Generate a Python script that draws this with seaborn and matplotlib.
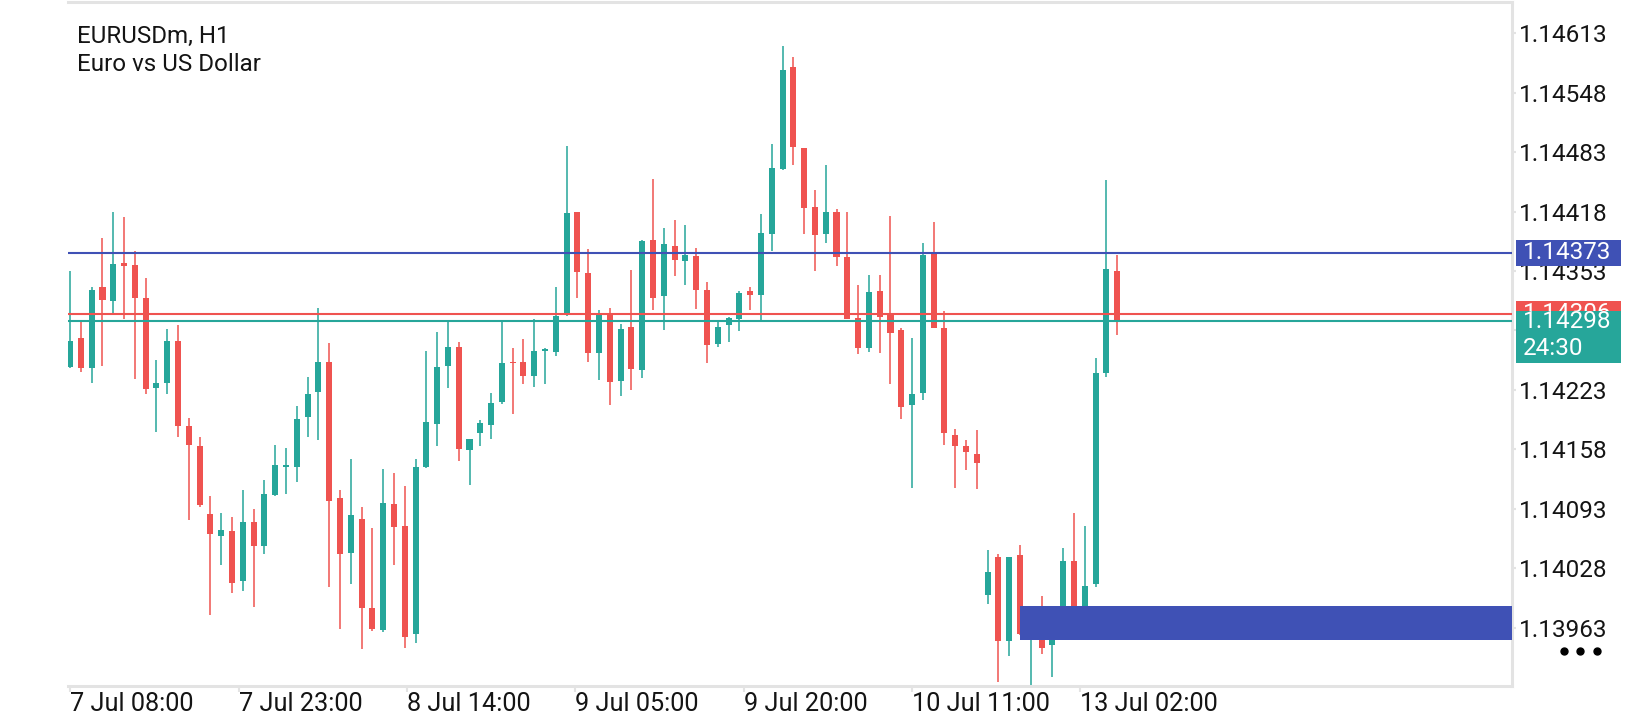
import numpy as np
import pandas as pd
import matplotlib
matplotlib.use("Agg")
import matplotlib.pyplot as plt
import matplotlib.transforms as mtransforms
from matplotlib.patches import Rectangle
import seaborn as sns

# ---------------- data (EURUSDm H1 candles) ----------------
opens = [1.14248, 1.14280, 1.14247, 1.14335, 1.14320, 1.14362, 1.14360, 1.14324, 1.14225, 1.14230,
         1.14277, 1.14184, 1.14162, 1.14087, 1.14063, 1.14069, 1.14014, 1.14078, 1.14052, 1.14108,
         1.14139, 1.14139, 1.14193, 1.14221, 1.14254, 1.14105, 1.14045, 1.14082, 1.13985, 1.13960,
         1.14098, 1.14074, 1.13956, 1.14139, 1.14186, 1.14249, 1.14270, 1.14157, 1.14176, 1.14185,
         1.14210, 1.14254, 1.14253, 1.14238, 1.14266, 1.14264, 1.14305, 1.14418, 1.14351, 1.14263,
         1.14305, 1.14233, 1.14292, 1.14245, 1.14387, 1.14326, 1.14380, 1.14364, 1.14369, 1.14332,
         1.14273, 1.14294, 1.14301, 1.14331, 1.14327, 1.14393, 1.14465, 1.14576, 1.14488, 1.14423,
         1.14393, 1.14417, 1.14368, 1.14302, 1.14269, 1.14331, 1.14306, 1.14289, 1.14206, 1.14220,
         1.14372, 1.14291, 1.14174, 1.14162, 1.14153, 1.13999, 1.14040, 1.13948, 1.14042, 1.13955,
         1.13960, 1.13944, 1.13962, 1.14036, 1.13975, 1.14011, 1.14242, 1.14353]
highs = [1.14353, 1.14298, 1.14336, 1.14389, 1.14417, 1.14412, 1.14375, 1.14345, 1.14256, 1.14290,
         1.14294, 1.14192, 1.14172, 1.14107, 1.14088, 1.14084, 1.14113, 1.14093, 1.14124, 1.14163,
         1.14159, 1.14205, 1.14237, 1.14313, 1.14274, 1.14113, 1.14147, 1.14095, 1.14072, 1.14136,
         1.14132, 1.14118, 1.14147, 1.14266, 1.14286, 1.14297, 1.14275, 1.14169, 1.14190, 1.14220,
         1.14298, 1.14269, 1.14279, 1.14300, 1.14269, 1.14336, 1.14490, 1.14418, 1.14377, 1.14310,
         1.14312, 1.14295, 1.14354, 1.14387, 1.14454, 1.14400, 1.14409, 1.14403, 1.14378, 1.14341,
         1.14297, 1.14303, 1.14331, 1.14335, 1.14415, 1.14492, 1.14599, 1.14587, 1.14488, 1.14442,
         1.14469, 1.14421, 1.14417, 1.14338, 1.14349, 1.14349, 1.14413, 1.14291, 1.14280, 1.14384,
         1.14407, 1.14309, 1.14180, 1.14168, 1.14179, 1.14048, 1.14043, 1.14040, 1.14053, 1.13980,
         1.13998, 1.13965, 1.14050, 1.14088, 1.14074, 1.14258, 1.14452, 1.14370]
lows = [1.14247, 1.14243, 1.14231, 1.14249, 1.14306, 1.14301, 1.14235, 1.14218, 1.14177, 1.14219,
        1.14172, 1.14081, 1.14095, 1.13977, 1.14032, 1.14001, 1.14003, 1.13986, 1.14044, 1.14107,
        1.14109, 1.14122, 1.14171, 1.14168, 1.14007, 1.13961, 1.14011, 1.13940, 1.13959, 1.13958,
        1.14032, 1.13941, 1.13946, 1.14138, 1.14162, 1.14225, 1.14145, 1.14119, 1.14162, 1.14169,
        1.14208, 1.14197, 1.14229, 1.14226, 1.14229, 1.14260, 1.14304, 1.14323, 1.14253, 1.14234,
        1.14207, 1.14216, 1.14223, 1.14236, 1.14310, 1.14289, 1.14347, 1.14338, 1.14311, 1.14252,
        1.14270, 1.14275, 1.14287, 1.14310, 1.14299, 1.14375, 1.14464, 1.14469, 1.14393, 1.14353,
        1.14384, 1.14359, 1.14301, 1.14262, 1.14264, 1.14263, 1.14229, 1.14191, 1.14116, 1.14212,
        1.14291, 1.14163, 1.14116, 1.14135, 1.14115, 1.13989, 1.13904, 1.13932, 1.13955, 1.13895,
        1.13934, 1.13909, 1.13955, 1.13960, 1.13965, 1.14007, 1.14237, 1.14283]
closes = [1.14277, 1.14247, 1.14332, 1.14321, 1.14361, 1.14358, 1.14324, 1.14224, 1.14230, 1.14277,
          1.14183, 1.14163, 1.14097, 1.14065, 1.14070, 1.14012, 1.14078, 1.14052, 1.14109, 1.14141,
          1.14141, 1.14191, 1.14219, 1.14254, 1.14102, 1.14043, 1.14086, 1.13985, 1.13962, 1.14099,
          1.14073, 1.13953, 1.14139, 1.14188, 1.14248, 1.14270, 1.14158, 1.14169, 1.14187, 1.14209,
          1.14252, 1.14252, 1.14238, 1.14266, 1.14267, 1.14304, 1.14416, 1.14352, 1.14263, 1.14306,
          1.14232, 1.14290, 1.14246, 1.14386, 1.14324, 1.14382, 1.14365, 1.14370, 1.14332, 1.14272,
          1.14292, 1.14302, 1.14329, 1.14327, 1.14395, 1.14466, 1.14573, 1.14489, 1.14422, 1.14392,
          1.14417, 1.14368, 1.14301, 1.14269, 1.14330, 1.14303, 1.14285, 1.14204, 1.14218, 1.14370,
          1.14291, 1.14176, 1.14162, 1.14155, 1.14143, 1.14024, 1.13948, 1.14040, 1.13956, 1.13975,
          1.13941, 1.13960, 1.14036, 1.13975, 1.14009, 1.14241, 1.14355, 1.14298]

time_labels = ["7 Jul 08:00", "7 Jul 23:00", "8 Jul 14:00", "9 Jul 05:00",
               "9 Jul 20:00", "10 Jul 11:00", "13 Jul 02:00"]
price_ticks = [1.14613, 1.14548, 1.14483, 1.14418, 1.14353, 1.14288,
               1.14223, 1.14158, 1.14093, 1.14028, 1.13963]

symbol_title = "EURUSDm, H1"
symbol_desc = "Euro vs US Dollar"
level_price = 1.14373      # blue horizontal level
ask_price = 1.14306        # red ask line
bid_price = 1.14298        # green bid line
bar_timer = "24:30"
zone_low, zone_high = 1.13950, 1.13987
zone_start_bar = 88

# ---------------- style ----------------
GREEN = "#26a69a"
RED = "#ef5350"
BLUE = "#3f51b5"
BORDER = "#e3e3e3"
TEXT = "#141414"

sns.set_theme(style="white")
plt.rcParams['font.family'] = ['Roboto', 'DejaVu Sans']

fig = plt.figure(figsize=(16.4, 7.2), dpi=100)
fig.patch.set_facecolor("white")
ax = fig.add_axes([0.0415, 0.047, 0.8806, 0.950])
ax.set_facecolor("white")

df = pd.DataFrame({"open": opens, "high": highs, "low": lows, "close": closes})
df["bar"] = np.arange(len(df))
up = df["close"] >= df["open"]
colors = np.where(up, GREEN, RED)

# wicks
ax.vlines(df["bar"], df["low"], df["high"], colors=colors, linewidth=1.1, zorder=2)
# bodies
body_bottom = np.minimum(df["open"], df["close"])
body_height = np.maximum((df["close"] - df["open"]).abs(), 0.000018)
ax.bar(df["bar"], body_height, bottom=body_bottom, width=0.56, color=colors,
       linewidth=0, zorder=3)

# horizontal price lines
ax.axhline(level_price, color=BLUE, linewidth=1.5, zorder=4)
ax.axhline(ask_price, color=RED, linewidth=1.5, zorder=4)
ax.axhline(bid_price, color=GREEN, linewidth=1.5, zorder=4)

# zone rectangle
xmin, xmax = -0.19, 133.6
ax.add_patch(Rectangle((zone_start_bar, zone_low), xmax - zone_start_bar + 5,
                       zone_high - zone_low, facecolor=BLUE, edgecolor="none", zorder=5))

ax.set_xlim(xmin, xmax)
ax.set_ylim(1.13899, 1.14647)

# axes styling
for side in ["top", "right", "bottom"]:
    ax.spines[side].set_color(BORDER)
    ax.spines[side].set_linewidth(2.2)
ax.spines["left"].set_visible(False)

ax.yaxis.tick_right()
ax.set_yticks(price_ticks)
# the 1.14288 label sits completely under the bid tag in the reference
ax.set_yticklabels(["" if abs(p - 1.14288) < 1e-7 else f"{p:.5f}" for p in price_ticks])
ax.tick_params(axis="y", which="both", right=True, left=False, length=3, width=1.5,
               color=BORDER, labelsize=17.5, labelcolor=TEXT, pad=2)

tick_step = 15.6
ax.set_xticks(np.arange(len(time_labels)) * tick_step)
ax.set_xticklabels(time_labels)
for lbl in ax.get_xticklabels():
    lbl.set_horizontalalignment("left")
ax.tick_params(axis="x", which="both", bottom=True, length=4, width=1.5,
               color=BORDER, labelsize=18.2, labelcolor=TEXT, pad=0)
ax.grid(False)

# right-side price tags
trans = mtransforms.blended_transform_factory(ax.transAxes, ax.transData)
tag_x, tag_w = 1.0029, 0.0726
half = 0.000143
txt_x = 1.0075
ax.add_patch(Rectangle((tag_x, level_price - half), tag_w, 2 * half, transform=trans,
                       facecolor=BLUE, edgecolor="none", clip_on=False, zorder=10))
ax.text(txt_x, level_price, f"{level_price:.5f}", transform=trans, color="white",
        fontsize=17.5, va="center", ha="left", zorder=11, clip_on=False)

ax.add_patch(Rectangle((tag_x, ask_price - half), tag_w, 2 * half, transform=trans,
                       facecolor=RED, edgecolor="none", clip_on=False, zorder=12))
teal_top = bid_price + 0.000113
teal_bottom = bid_price - 0.000460
# only the strip of the ask tag above the bid tag is visible
visible_strip = Rectangle((tag_x, teal_top), tag_w, ask_price + half - teal_top,
                          transform=trans, facecolor="none", edgecolor="none")
ask_txt = ax.text(txt_x, ask_price, f"{ask_price:.5f}", transform=trans, color="white",
                  fontsize=17.5, va="center", ha="left", zorder=13)
ask_txt.set_clip_path(visible_strip)
ask_txt.set_clip_on(True)

ax.add_patch(Rectangle((tag_x, teal_bottom), tag_w, teal_top - teal_bottom, transform=trans,
                       facecolor=GREEN, edgecolor="none", clip_on=False, zorder=14))
ax.text(txt_x, bid_price, f"{bid_price:.5f}", transform=trans, color="white",
        fontsize=17.5, va="center", ha="left", zorder=15, clip_on=False)
ax.text(txt_x, bid_price - 0.000300, bar_timer, transform=trans, color="white",
        fontsize=17.5, va="center", ha="left", zorder=15, clip_on=False)

# three-dot menu
ax.plot([1.0356, 1.0472, 1.0588], [1.13937] * 3, "o", color="black", markersize=5,
        transform=trans, clip_on=False, zorder=15)

# header
fig.text(0.047, 0.965, symbol_title, fontsize=17.4, color=TEXT, va="top", ha="left")
fig.text(0.047, 0.926, symbol_desc, fontsize=17.4, color=TEXT, va="top", ha="left")

fig.savefig("out.png", dpi=100, facecolor="white")
